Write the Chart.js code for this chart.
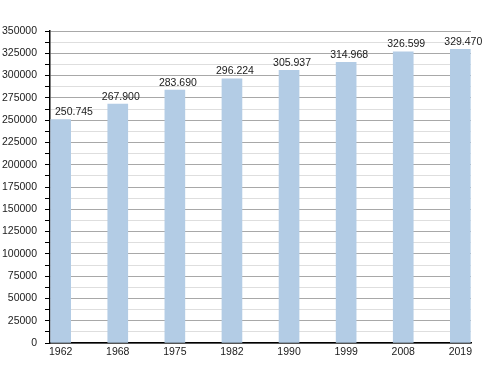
<!DOCTYPE html>
<html>
<head>
<meta charset="utf-8">
<script src="https://cdn.jsdelivr.net/npm/chart.js@4"></script>
<style>
  html, body { margin: 0; padding: 0; background: #fff; }
  #wrap { width: 500px; height: 373px; }
</style>
</head>
<body>
<div id="wrap"><canvas id="myChart" width="500" height="373"></canvas></div>
<script>
// population by census year
const years = ["1962", "1968", "1975", "1982", "1990", "1999", "2008", "2019"];
const population = [250745, 267900, 283690, 296224, 305937, 314968, 326599, 329470];
const yTicks = [0, 25000, 50000, 75000, 100000, 125000, 150000, 175000, 200000,
  225000, 250000, 275000, 300000, 325000, 350000];

const fontFamily = "'Liberation Sans', Arial, sans-serif";

// 250745 -> "250.745"
function fmt(v) {
  return String(v).replace(/\B(?=(\d{3})+(?!\d))/g, ".");
}

const valueLabels = {
  id: "valueLabels",
  afterDatasetsDraw(chart) {
    const ctx = chart.ctx;
    const meta = chart.getDatasetMeta(0);
    const left = chart.chartArea.left;
    ctx.save();
    ctx.font = "10.5px " + fontFamily;
    ctx.fillStyle = "#1a1a1a";
    ctx.textAlign = "left";
    ctx.textBaseline = "alphabetic";
    meta.data.forEach(function (bar, i) {
      const txt = fmt(population[i]);
      const w = ctx.measureText(txt).width;
      // labels sit a bit right of centre, and never touch the axis
      const x = Math.max(bar.x + 3 - w / 2, left + 5);
      ctx.fillText(txt, x, bar.y - 4.5);
    });
    ctx.restore();
  },
};

document.addEventListener("DOMContentLoaded", function () {
  const ctx = document.getElementById("myChart");
  new Chart(ctx, {
    type: "bar",
    data: {
      datasets: [
        {
          data: population.map((v, i) => ({ x: i, y: v })),
          backgroundColor: "#b3cce5",
          borderWidth: 0,
          barThickness: 20,
        },
      ],
    },
    plugins: [valueLabels],
    options: {
      responsive: false,
      animation: false,
      layout: {
        padding: { left: 0, right: 29, top: 31, bottom: 0 },
      },
      plugins: {
        legend: { display: false },
        tooltip: { enabled: false },
      },
      scales: {
        x: {
          type: "linear",
          offset: false,
          min: -0.187,
          max: 7.187,
          afterBuildTicks: (scale) => {
            scale.ticks = years.map((_, i) => ({ value: i }));
          },
          afterFit: (scale) => {
            scale.height = 30;
          },
          grid: { display: false, drawTicks: false },
          border: { display: true, color: "#000", width: 1.5 },
          ticks: {
            autoSkip: false,
            maxRotation: 0,
            padding: 3,
            color: "#1a1a1a",
            font: { family: fontFamily, size: 10.5 },
            callback: (v) => years[v] || "",
          },
        },
        y: {
          min: 0,
          max: 350000,
          afterBuildTicks: (scale) => {
            const t = [];
            for (let v = 0; v <= 350000; v += 12500) t.push({ value: v });
            scale.ticks = t;
          },
          afterFit: (scale) => {
            scale.width = 50;
          },
          grid: {
            color: (c) => (c.tick && c.tick.value % 25000 === 0 ? "#a8a8a8" : "#dedede"),
            tickColor: "#000",
            tickLength: 5,
            lineWidth: 1,
          },
          border: { display: true, color: "#000", width: 1.5 },
          ticks: {
            autoSkip: false,
            padding: 8,
            color: "#1a1a1a",
            font: { family: fontFamily, size: 10.5 },
            callback: (v) => (yTicks.includes(v) ? String(v) : ""),
          },
        },
      },
    },
  });
});
</script>
</body>
</html>
